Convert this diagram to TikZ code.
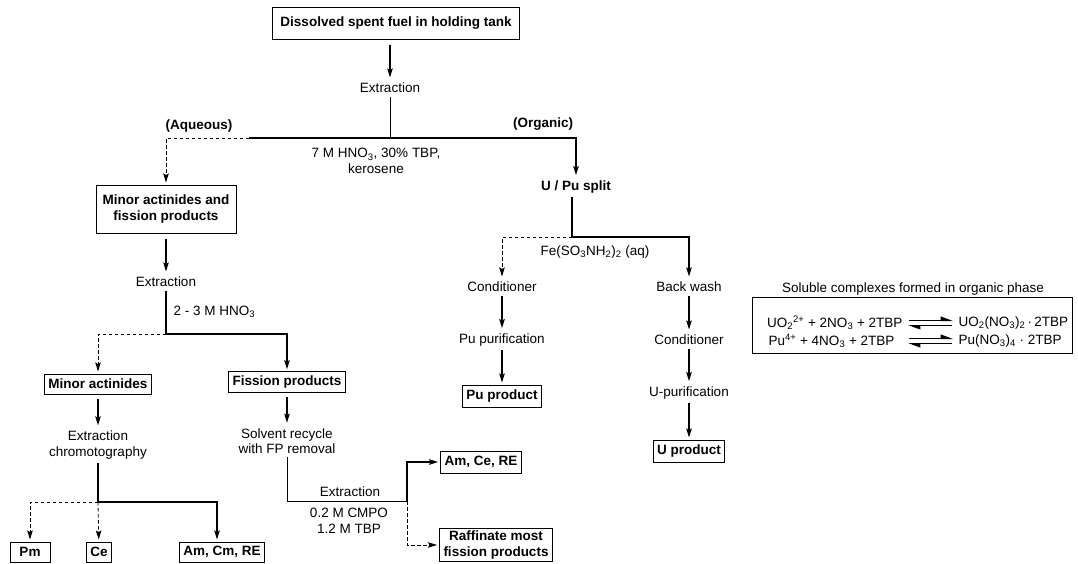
\documentclass[tikz,border=0pt]{standalone}
\usepackage{fontspec}
\setmainfont{Liberation Sans}
\usetikzlibrary{arrows.meta}
\usetikzlibrary{positioning}

\begin{document}
\begin{tikzpicture}[x=1pt,y=-1pt,>={Stealth[length=9pt,width=5.5pt,inset=1.5pt]},
  line width=1.2pt,
  every node/.style={font=\fontsize{13.5}{15.5}\selectfont,align=center,inner sep=3pt},
  box/.style={draw,line width=1pt,font=\fontsize{13.5}{15.5}\selectfont\bfseries,inner sep=4pt},
  tag/.style={font=\fontsize{13.5}{15.5}\selectfont\bfseries},
  arr/.style={->,shorten >=2pt},
  thinlink/.style={line width=0.8pt},
  dashlink/.style={line width=0.8pt,dash pattern=on 3.5pt off 2.5pt},
  harp/.style={line width=1pt,shorten <=3pt,shorten >=2pt}]

  \useasboundingbox (0,0) rectangle (1078,563);

  % main stream
  \node[box,minimum width=247,minimum height=32] (feed) at (396,23) {Dissolved spent fuel in holding tank};
  \node (ext1) at (390,88) {Extraction};
  \node[tag] (aq) at (199,126) {(Aqueous)};
  \node[tag] (org) at (543,124) {(Organic)};
  \node (hno1) at (376,161) {7 M HNO\textsubscript{3}, 30\% TBP,\\kerosene};
  \node[tag] (split) at (576,187) {U / Pu split};

  % organic branch
  \node (fe) at (595,252) {Fe(SO\textsubscript{3}NH\textsubscript{2})\textsubscript{2} (aq)};
  \node (condpu) at (502,287) {Conditioner};
  \node (pupur) at (502,340) {Pu purification};
  \node[box,minimum height=22] (pup) at (502,396) {Pu product};
  \node (backw) at (689,287) {Back wash};
  \node (condu) at (689,340) {Conditioner};
  \node (upur) at (689,393) {U-purification};
  \node[box,minimum height=22] (up) at (689,451) {U product};

  % aqueous branch
  \node[box,minimum width=140,minimum height=48] (mafp) at (166,209) {Minor actinides and\\fission products};
  \node (ext2) at (166,282) {Extraction};
  \node[anchor=west] (hno2) at (170,312) {2 - 3 M HNO\textsubscript{3}};
  \node[box,minimum height=20] (ma) at (98,384) {Minor actinides};
  \node[box,minimum height=20] (fp) at (287,382) {Fission products};
  \node (chrom) at (98,445) {Extraction\\chromotography};
  \node (recyc) at (287,441) {Solvent recycle\\with FP removal};
  \node[box,minimum width=40,minimum height=20] (pm) at (30,552) {Pm};
  \node[box,minimum height=20] (ce) at (99,552) {Ce};
  \node[box,minimum height=20] (amcm) at (222,552) {Am, Cm, RE};
  \node (ext3) at (350,492) {Extraction};
  \node (cmpo) at (349,521) {0.2 M CMPO\\1.2 M TBP};
  \node[box,minimum height=22] (amce) at (481,462) {Am, Ce, RE};
  \node[box,inner ysep=2.5pt] (raff) at (496,545) {Raffinate most\\fission products};

  % complexes
  \node (soltitle) at (913,289) {Soluble complexes formed in organic phase};
  \node[draw,line width=1pt,minimum width=320,minimum height=56,inner sep=0pt] (cplx) at (912,325) {};
  \node[anchor=east] (r1l) at (906,323) {UO\textsubscript{2}\textsuperscript{2+} + 2NO\textsubscript{3} + 2TBP};
  \node[anchor=west] (r1r) at (955,323) {UO\textsubscript{2}(NO\textsubscript{3})\textsubscript{2}\,\textperiodcentered\,2TBP};
  \node[anchor=east] (r2l) at (898,341) {Pu\textsuperscript{4+} + 4NO\textsubscript{3} + 2TBP};
  \node[anchor=west] (r2r) at (955,341) {Pu(NO\textsubscript{3})\textsubscript{4} \textperiodcentered\ 2TBP};

  \coordinate (j1) at (390,138);
  \coordinate (j1a) at (249,138);
  \coordinate (j2) at (572,237);
  \coordinate (j3) at (166,334);
  \coordinate (j4) at (98,502);
  \coordinate (j5) at (407,501);

  \draw[arr,shorten <=5pt] (feed.south -| ext1) -- (ext1);
  \draw[thinlink] (ext1) -- (j1);
  \draw[arr] (j1a) -- (j1) -| (split);
  \draw[dashlink,arr] (j1a) -| (mafp);

  \draw (split.south -| j2) -- (j2);
  \draw[dashlink,arr] (j2) -| (condpu);
  \draw[arr] (j2) -| (backw);
  \draw[arr] (condpu) -- (pupur);
  \draw[arr] (pupur) -- (pup);
  \draw[arr] (backw) -- (condu);
  \draw[arr] (condu) -- (upur);
  \draw[arr] (upur) -- (up);

  \draw[arr,shorten <=5pt] (mafp) -- (ext2);
  \draw (ext2) -- (j3);
  \draw[arr] (j3) -| (fp);
  \draw[dashlink,arr] (j3) -| (ma);
  \draw[arr,shorten <=4pt] (ma) -- (chrom);
  \draw (chrom) -- (j4);
  \draw[arr] (j4) -| ([xshift=-5pt]amcm.north);
  \draw[dashlink,arr] (j4) -| (pm);
  \draw[dashlink,arr] (j4) -- (ce);
  \draw[arr,shorten <=4pt] (fp) -- (recyc);
  \draw[thinlink] (recyc) |- (j5);
  \draw[arr] (j5) |- (amce);
  \draw[dashlink,arr] (j5) |- (raff);

  % equilibrium harpoons
  \draw[harp,-{Stealth[left,length=11pt,width=8pt,inset=0pt]}] ([yshift=2.5pt]r1l.east) -- ([yshift=2.5pt]r1l.east -| r1r.west);
  \draw[harp,-{Stealth[left,length=11pt,width=8pt,inset=0pt]}] ([yshift=-2.5pt]r1l.east -| r1r.west) -- ([yshift=-2.5pt]r1l.east);
  \draw[harp,-{Stealth[left,length=11pt,width=8pt,inset=0pt]}] ([yshift=2.5pt]r1l.east |- r2l.east) -- ([yshift=2.5pt]r2r.west);
  \draw[harp,-{Stealth[left,length=11pt,width=8pt,inset=0pt]}] ([yshift=-2.5pt]r2r.west) -- ([yshift=-2.5pt]r1l.east |- r2l.east);
\end{tikzpicture}
\end{document}
